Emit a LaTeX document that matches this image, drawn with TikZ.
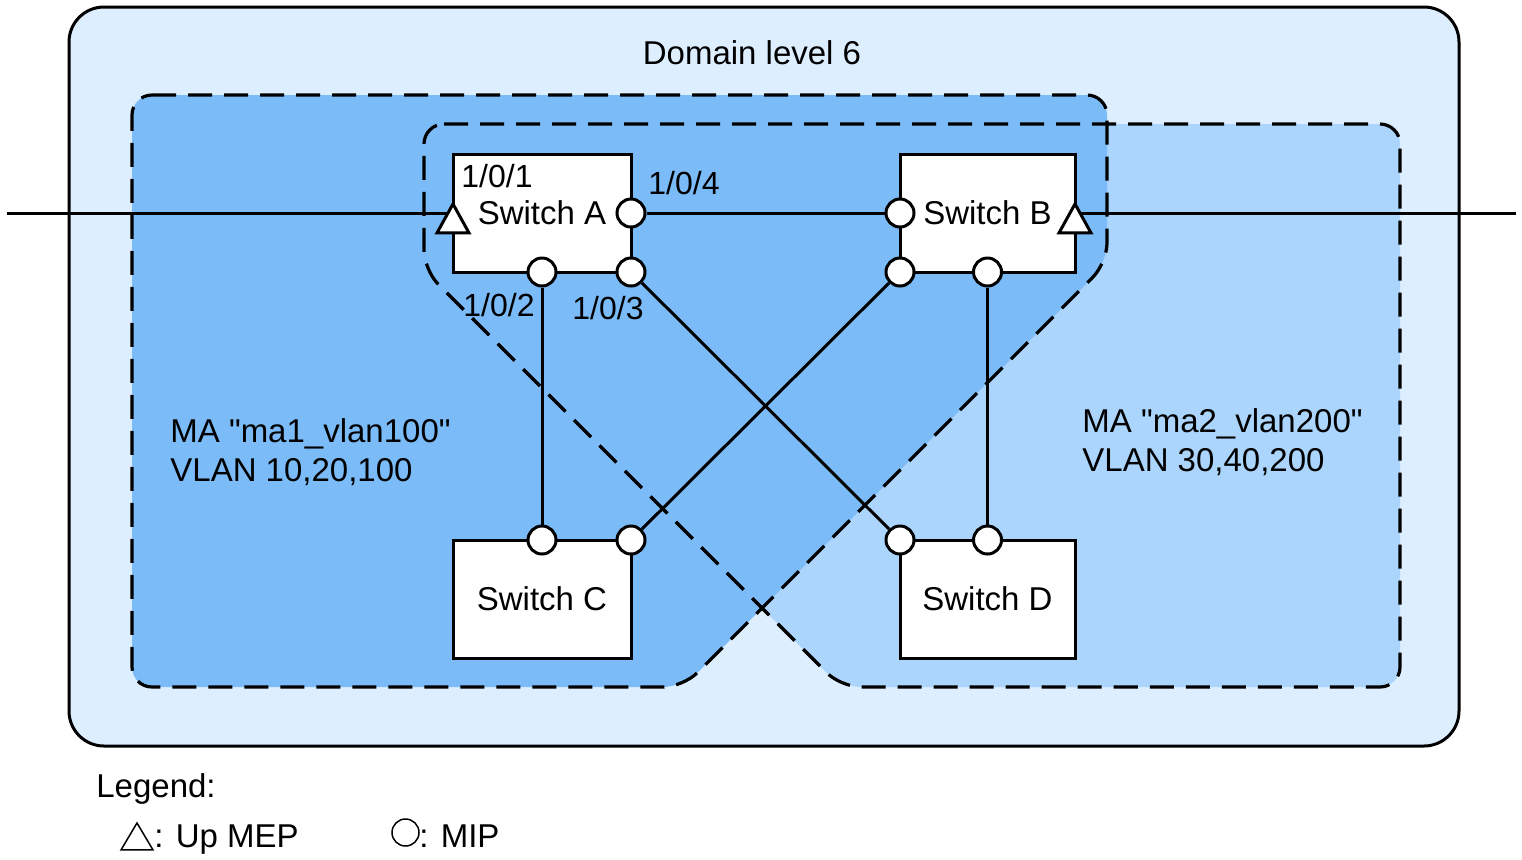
\documentclass[tikz,border=0pt]{standalone}
\usepackage{fontspec}
\setmainfont{Liberation Sans}
\usetikzlibrary{positioning, shapes.geometric}
\definecolor{domainfill}{HTML}{DDEEFE}
\definecolor{maonefill}{HTML}{7BBBF8}
\definecolor{matwofill}{HTML}{ABD5FC}

\begin{document}
\begin{tikzpicture}[x=0.5pt, y=-0.5pt, node distance=134pt and 134.5pt,
    font=\fontsize{16.5}{19.5}\selectfont,
    switch/.style={rectangle, draw, fill=white, line width=1.5pt, minimum width=89pt, minimum height=59pt, inner sep=0pt, outer sep=0pt},
    mip/.style={circle, draw, fill=white, line width=1.5pt, minimum size=14pt, inner sep=0pt},
    mep/.style={isosceles triangle, isosceles triangle stretches, shape border rotate=90, anchor=apex, draw, fill=white, line width=1.5pt, minimum width=16pt, minimum height=14.5pt, inner sep=0pt},
    portlabel/.style={anchor=west, inner sep=0pt, font=\fontsize{16}{19}\selectfont},
    link/.style={line width=1.5pt},
    madash/.style={line width=1.6pt, dash pattern=on 12pt off 6pt, rounded corners=10pt}]
    \useasboundingbox (0,0) rectangle (1522,859);
    \draw[fill=domainfill, line width=1.5pt, rounded corners=17.5pt] (69,7) rectangle (1459,746);
    \fill[matwofill, rounded corners=10pt] (424,124) -- (1400,124) -- (1400,687) -- (841,687) -- (424,270) -- cycle;
    \fill[maonefill, rounded corners=10pt] (132,95) -- (1107,95) -- (1107,263) -- (683,687) -- (132,687) -- cycle;
    \draw[madash] (424,124) -- (1400,124) -- (1400,687) -- (841,687) -- (424,270) -- cycle;
    \draw[madash] (132,95) -- (1107,95) -- (1107,263) -- (683,687) -- (132,687) -- cycle;

    \node[anchor=base] (domain) at (752,64) {Domain level 6};
    \node[align=left, anchor=north west, inner sep=0pt] (maone) at (170,418) {MA \textquotedbl ma1\_vlan100\textquotedbl\\VLAN 10,20,100};
    \node[align=left, anchor=north west, inner sep=0pt] (matwo) at (1082,408) {MA \textquotedbl ma2\_vlan200\textquotedbl\\VLAN 30,40,200};

    \node[switch]                                  (swA) at (542,213) {Switch A};
    \node[switch, right=of swA, minimum width=87.5pt] (swB)            {Switch B};
    \node[switch, below=of swA]                    (swC)            {Switch C};
    \node[switch, below=of swB, minimum width=87.5pt] (swD)            {Switch D};

    \coordinate (wanL) at (7,213);
    \coordinate (wanR) at (1516,213);
    \draw[link] (wanL) -- (swA.west);
    \draw[link] (swB.east) -- (wanR);

    \node[mep, yshift=6.5pt] (a1) at (swA.west)       {};
    \node[mip]               (a2) at (swA.south)      {};
    \node[mip]               (a3) at (swA.south east) {};
    \node[mip]               (a4) at (swA.east)       {};
    \node[mip]               (b1) at (swB.west)       {};
    \node[mep, yshift=6.5pt] (b2) at (swB.east)       {};
    \node[mip]               (b3) at (swB.south west) {};
    \node[mip]               (b4) at (swB.south)      {};
    \node[mip]               (c1) at (swC.north)      {};
    \node[mip]               (c2) at (swC.north east) {};
    \node[mip]               (d1) at (swD.north west) {};
    \node[mip]               (d2) at (swD.north)      {};

    \path[link]
        (a4) edge (b1)
        (a2) edge (c1)
        (a3) edge (d1)
        (b3) edge (c2)
        (b4) edge (d2)
        ;

    \node[portlabel] (l1) at (461,176) {1/0/1};
    \node[portlabel] (l2) at (463,305) {1/0/2};
    \node[portlabel] (l3) at (572,308) {1/0/3};
    \node[portlabel] (l4) at (648,183) {1/0/4};

    \node[anchor=base west, inner sep=0pt] (legend) at (96,797) {Legend:};
    \node[mep, line width=0.75pt, minimum width=16pt, minimum height=13.5pt] (legmep) at (137,821) {};
    \node[anchor=base west, inner sep=0pt] (legmeptext) at (154,847) {: Up MEP};
    \node[mip, line width=0.75pt, minimum size=13.5pt] (legmip) at (405.5,832.5) {};
    \node[anchor=base west, inner sep=0pt] (legmiptext) at (419,847) {: MIP};
\end{tikzpicture}
\end{document}
